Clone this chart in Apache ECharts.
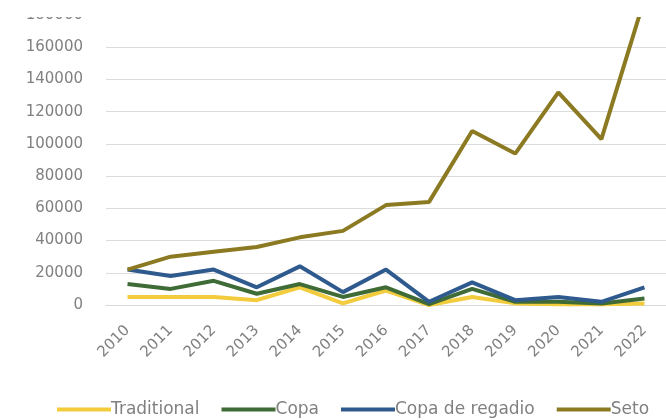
<!DOCTYPE html>
<html>
<head>
<meta charset="utf-8">
<style>
  html, body { margin: 0; padding: 0; background: #fff; }
  #chart { width: 666px; height: 420px; }
</style>
<script src="https://cdn.jsdelivr.net/npm/echarts@6/dist/echarts.min.js"></script>
</head>
<body>
<div id="chart"></div>
<script>
// Yearly counts per category
const years = ['2010','2011','2012','2013','2014','2015','2016','2017','2018','2019','2020','2021','2022'];
const traditional = [5000, 5000, 5000, 3000, 11000, 1000, 9000, 0, 5000, 1000, 500, 500, 1000];
const copa = [13000, 10000, 15000, 7000, 13000, 5000, 11000, 500, 10000, 2000, 2000, 1000, 4000];
const copaRegadio = [22000, 18000, 22000, 11000, 24000, 8000, 22000, 2000, 14000, 3000, 5000, 2000, 11000];
const seto = [22000, 30000, 33000, 36000, 42000, 46000, 62000, 64000, 108000, 94000, 132000, 103000, 190000];

const seriesNames = ['Traditional', 'Copa', 'Copa de regadio', 'Seto'];
const seriesData = [traditional, copa, copaRegadio, seto];
const seriesColors = ['#F2CC3C', '#3E6B36', '#2F5A8E', '#8C7A22'];

const chart = echarts.init(document.getElementById('chart'), null, { renderer: 'canvas' });

const font = 'DejaVu Sans';
const textColor = '#808080';

chart.setOption({
  animation: false,
  backgroundColor: '#ffffff',
  grid: { left: 106, right: -6, top: 15, bottom: 115, containLabel: false },
  xAxis: {
    type: 'category',
    data: years,
    boundaryGap: true,
    axisLine: { show: true, lineStyle: { color: '#d9d9d9', width: 1 } },
    axisTick: { show: false },
    axisLabel: { rotate: 45, margin: 23, color: textColor, fontFamily: font, fontSize: 15 }
  },
  yAxis: {
    type: 'value',
    min: 0,
    max: 180000,
    interval: 20000,
    axisLine: { show: false },
    axisTick: { show: false },
    splitLine: { lineStyle: { color: '#dcdcdc', width: 1 } },
    axisLabel: {
      margin: 23, color: textColor, fontFamily: font, fontSize: 15,
      formatter: (v) => String(v)
    }
  },
  legend: {
    left: 52,
    top: 396,
    itemWidth: 54,
    itemHeight: 4,
    itemGap: 22,
    icon: 'rect',
    textStyle: { color: textColor, fontFamily: font, fontSize: 17, padding: [0, 0, 0, -5] },
    data: seriesNames
  },
  series: seriesNames.map((name, i) => ({
    name: name,
    type: 'line',
    data: seriesData[i],
    showSymbol: false,
    symbol: 'none',
    clip: true,
    lineStyle: { color: seriesColors[i], width: 4 },
    itemStyle: { color: seriesColors[i] },
    z: 2 + i
  })),
  graphic: [{
    type: 'rect',
    z: 100,
    shape: { x: 0, y: 0, width: 666, height: 17 },
    style: { fill: '#ffffff' }
  }]
});
</script>
</body>
</html>
